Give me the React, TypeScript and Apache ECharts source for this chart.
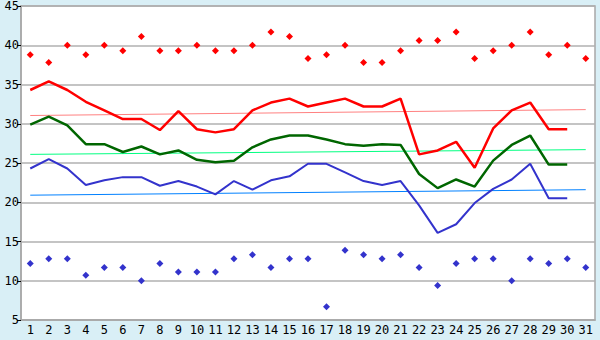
import React, { useEffect, useRef } from "react";
import * as echarts from "echarts";

const days = Array.from({ length: 31 }, (_, i) => String(i + 1));

const recordHigh = [38.8, 37.8, 40, 38.8, 40, 39.3, 41.1, 39.3, 39.3, 40, 39.3, 39.3, 40, 41.7, 41.1, 38.3, 38.8, 40, 37.8, 37.8, 39.3, 40.6, 40.6, 41.7, 38.3, 39.3, 40, 41.7, 38.8, 40, 38.3];
const recordLow = [12.2, 12.8, 12.8, 10.7, 11.7, 11.7, 10.0, 12.2, 11.1, 11.1, 11.1, 12.8, 13.3, 11.7, 12.8, 12.8, 6.7, 13.9, 13.3, 12.8, 13.3, 11.7, 9.4, 12.2, 12.8, 12.8, 10.0, 12.8, 12.2, 12.8, 11.7];
const maxTemp = [34.3, 35.4, 34.3, 32.8, 31.7, 30.6, 30.6, 29.2, 31.6, 29.3, 28.9, 29.3, 31.7, 32.7, 33.2, 32.2, 32.7, 33.2, 32.2, 32.2, 33.2, 26.1, 26.6, 27.7, 24.4, 29.4, 31.7, 32.7, 29.3, 29.3, null];
const avgTemp = [29.9, 30.9, 29.8, 27.4, 27.4, 26.4, 27.1, 26.1, 26.6, 25.4, 25.1, 25.3, 27.0, 28.0, 28.5, 28.5, 28.0, 27.4, 27.2, 27.4, 27.3, 23.6, 21.8, 22.9, 22.0, 25.3, 27.3, 28.5, 24.8, 24.8, null];
const minTemp = [24.3, 25.5, 24.3, 22.2, 22.8, 23.2, 23.2, 22.1, 22.7, 22.0, 21.0, 22.7, 21.6, 22.8, 23.3, 24.9, 24.9, 23.8, 22.7, 22.2, 22.7, 19.6, 16.1, 17.2, 19.9, 21.7, 22.9, 24.9, 20.5, 20.5, null];

const maxTrend = [31.05, 31.8];
const avgTrend = [26.1, 26.7];
const minTrend = [20.9, 21.6];

const trendData = (t: number[]) => [
  [days[0], t[0]],
  [days[days.length - 1], t[1]],
];

export default function App() {
  const ref = useRef<HTMLDivElement>(null);
  useEffect(() => {
    if (!ref.current) return;
    const chart = echarts.init(ref.current, undefined, { renderer: "svg" });
    const font = "DejaVu Sans Mono";
    chart.setOption({
      animation: false,
      backgroundColor: "#d9eff6",
      grid: {
        left: 21,
        right: 5,
        top: 5,
        bottom: 20,
        show: true,
        backgroundColor: "#ffffff",
        borderColor: "#a8a8a8",
        borderWidth: 1.5,
      },
      xAxis: {
        type: "category",
        data: days,
        boundaryGap: true,
        axisLine: { lineStyle: { color: "#a8a8a8", width: 1.5 } },
        axisTick: { alignWithLabel: true, length: 5, lineStyle: { color: "#000" } },
        axisLabel: { interval: 0, color: "#000", fontFamily: font, fontSize: 12, margin: 4 },
      },
      yAxis: {
        type: "value",
        min: 5,
        max: 45,
        interval: 5,
        axisLine: { show: true, lineStyle: { color: "#a8a8a8", width: 1.5 } },
        axisTick: { show: true, length: 4, lineStyle: { color: "#000" } },
        axisLabel: { color: "#000", fontFamily: font, fontSize: 12, margin: 2 },
        splitLine: { lineStyle: { color: "#b0b0b0", width: 1.5 } },
      },
      series: [
        { type: "line", data: trendData(maxTrend), symbol: "none", lineStyle: { color: "#ff8080", width: 1 }, silent: true },
        { type: "line", data: trendData(avgTrend), symbol: "none", lineStyle: { color: "#00ff80", width: 1 }, silent: true },
        { type: "line", data: trendData(minTrend), symbol: "none", lineStyle: { color: "#0080ff", width: 1 }, silent: true },
        { type: "line", data: maxTemp, symbol: "none", lineStyle: { color: "#ff0000", width: 2.5 } },
        { type: "line", data: avgTemp, symbol: "none", lineStyle: { color: "#006600", width: 2.5 } },
        { type: "line", data: minTemp, symbol: "none", lineStyle: { color: "#3333cc", width: 2 } },
        { type: "scatter", data: recordHigh, symbol: "diamond", symbolSize: 7, itemStyle: { color: "#ff0000", opacity: 1 } },
        { type: "scatter", data: recordLow, symbol: "diamond", symbolSize: 7, itemStyle: { color: "#3333cc", opacity: 1 } },
      ],
    });
    return () => chart.dispose();
  }, []);
  return <div ref={ref} style={{ width: 600, height: 340, position: "absolute", left: 0, top: 0 }} />;
}
